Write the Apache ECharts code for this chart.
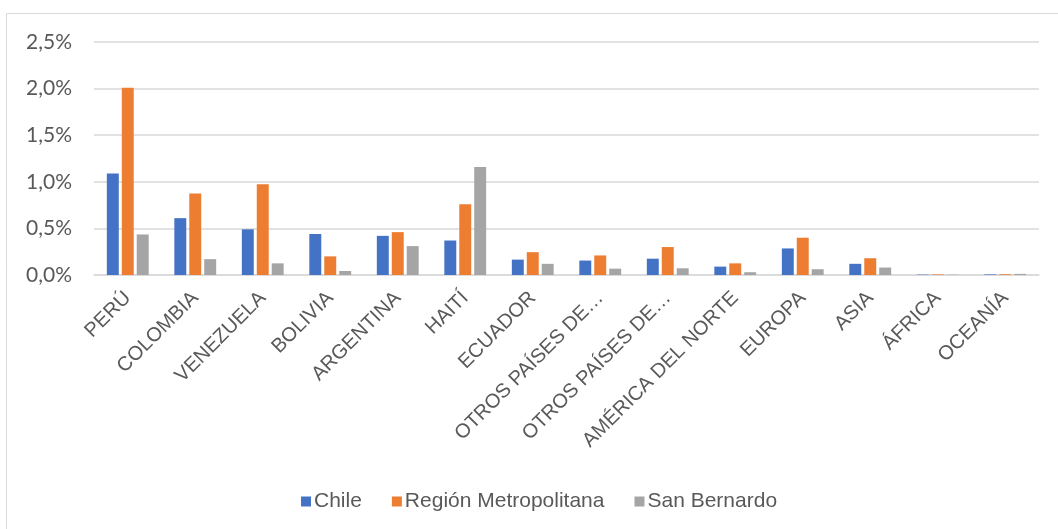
<!DOCTYPE html>
<html>
<head>
<meta charset="utf-8">
<script src="https://cdn.jsdelivr.net/npm/echarts@6/dist/echarts.min.js"></script>
<style>
  html, body { margin: 0; padding: 0; background: #fff; }
  #chart { width: 1058px; height: 529px; }
</style>
</head>
<body>
<div id="chart"></div>
<script>
// categorias (eje x)
var categorias = ['PERÚ', 'COLOMBIA', 'VENEZUELA', 'BOLIVIA', 'ARGENTINA', 'HAITÍ', 'ECUADOR',
  'OTROS PAÍSES DE…', 'OTROS PAÍSES DE…', 'AMÉRICA DEL NORTE', 'EUROPA', 'ASIA', 'ÁFRICA', 'OCEANÍA']

// valores en %
var chile = [1.09, 0.61, 0.49, 0.44, 0.42, 0.37, 0.165, 0.155, 0.175, 0.09, 0.285, 0.12, 0.004, 0.006]
var regionMetropolitana = [2.01, 0.875, 0.975, 0.2, 0.46, 0.76, 0.245, 0.21, 0.3, 0.125, 0.4, 0.18, 0.006, 0.008]
var sanBernardo = [0.435, 0.17, 0.125, 0.043, 0.31, 1.16, 0.12, 0.068, 0.072, 0.03, 0.062, 0.08, 0.003, 0.012]

var seriesNames = ['Chile', 'Región Metropolitana', 'San Bernardo']
var yTicks = { min: 0, max: 2.5, interval: 0.5 }

var colores = ['#4472C4', '#ED7D31', '#A5A5A5']

var myChart = echarts.init(document.getElementById('chart'))

function serie (name, data) {
  return {
    name: name,
    type: 'bar',
    data: data,
    barGap: '25%',
    barCategoryGap: '38%'
  }
}

var option = {
  animation: false,
  color: colores,
  textStyle: { fontFamily: 'Liberation Sans', color: '#595959' },
  graphic: [{
    type: 'rect',
    shape: { x: 6.5, y: 13.5, width: 1100, height: 600 },
    style: { fill: 'none', stroke: '#d9d9d9', lineWidth: 1 },
    silent: true
  }],
  grid: {
    left: 94,
    right: 19,
    top: 42,
    bottom: 254
  },
  legend: {
    bottom: 12,
    left: 296,
    icon: 'rect',
    itemWidth: 10,
    itemHeight: 10,
    itemGap: 30,
    textStyle: { fontSize: 21, color: '#595959', fontFamily: 'Liberation Sans', padding: [0, 0, 0, -2] },
    data: seriesNames
  },
  xAxis: {
    type: 'category',
    data: categorias,
    axisLine: { lineStyle: { color: '#d9d9d9', width: 1.5 } },
    axisTick: { show: false },
    axisLabel: {
      rotate: 45,
      interval: 0,
      fontSize: 20,
      color: '#595959',
      margin: 20
    }
  },
  yAxis: {
    type: 'value',
    min: yTicks.min,
    max: yTicks.max,
    interval: yTicks.interval,
    axisLine: { show: false },
    axisTick: { show: false },
    splitLine: { lineStyle: { color: '#d9d9d9', width: 1.5 } },
    axisLabel: {
      fontSize: 21,
      fontFamily: 'Lato',
      color: '#595959',
      margin: 22,
      formatter: function (v) { return v.toFixed(1).replace('.', ',') + '%' }
    }
  },
  series: [
    serie(seriesNames[0], chile),
    serie(seriesNames[1], regionMetropolitana),
    serie(seriesNames[2], sanBernardo)
  ]
}
myChart.setOption(option)
</script>
</body>
</html>
